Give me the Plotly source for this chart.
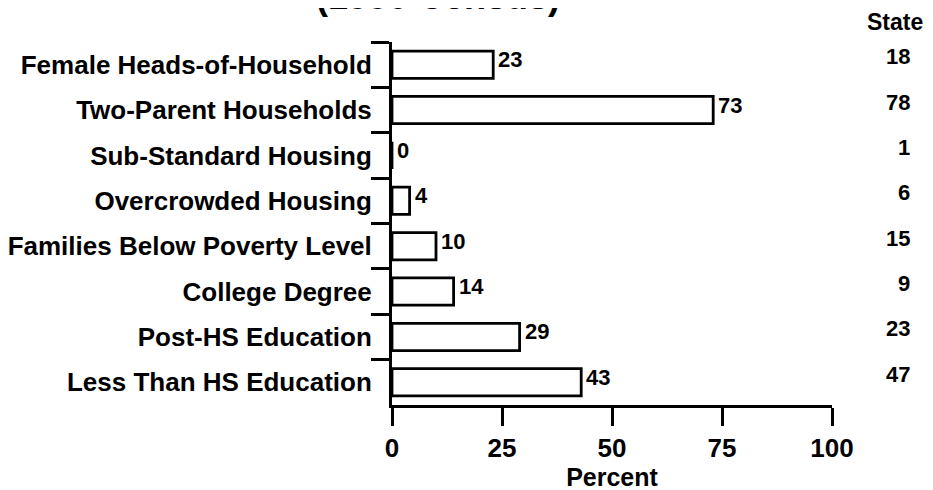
import plotly.graph_objects as go

categories = [
    "Female Heads-of-Household",
    "Two-Parent Households",
    "Sub-Standard Housing",
    "Overcrowded Housing",
    "Families Below Poverty Level",
    "College Degree",
    "Post-HS Education",
    "Less Than HS Education",
]
local_values = [23, 73, 0, 4, 10, 14, 29, 43]
state_values = [18, 78, 1, 6, 15, 9, 23, 47]
x_ticks = [0, 25, 50, 75, 100]
title_text = "(1990 Census)"
state_header = "State"
x_title = "Percent"

FONT = "Liberation Sans, Arial, Helvetica, sans-serif"
W, H = 933, 490
OFF = 8  # page body margin offset
# desired plot area in screen pixels
SX0, SX1, SY0, SY1 = 392, 832, 42, 405
L = SX0 - OFF
T = SY0 - OFF
R = W - L - (SX1 - SX0)
B = H - T - (SY1 - SY0)
PW, PH = SX1 - SX0, SY1 - SY0


def px_to_paper_x(px):
    return (px - SX0) / PW


def px_to_paper_y(py):
    return 1 - (py - SY0) / PH


fig = go.Figure()
fig.add_trace(go.Bar(
    x=local_values,
    y=categories,
    orientation="h",
    width=0.6,
    marker=dict(color="white", line=dict(color="black", width=2.8)),
    showlegend=False,
    hoverinfo="x+y",
))

annotations = []
for cat, lv in zip(categories, local_values):
    annotations.append(dict(
        x=lv, xref="x", xanchor="left", xshift=3,
        y=cat, yref="y", yanchor="middle", yshift=5,
        text=str(lv), showarrow=False,
        font=dict(family=FONT, size=22, color="black", weight="bold"),
    ))
for cat, sv in zip(categories, state_values):
    annotations.append(dict(
        x=px_to_paper_x(912), xref="paper", xanchor="right",
        y=cat, yref="y", yanchor="middle", yshift=8,
        text=str(sv), showarrow=False,
        font=dict(family=FONT, size=22, color="black", weight="bold"),
    ))
annotations.append(dict(
    x=px_to_paper_x(925), xref="paper", xanchor="right",
    y=px_to_paper_y(22), yref="paper", yanchor="middle",
    text=state_header, showarrow=False,
    font=dict(family=FONT, size=23, color="black", weight="bold"),
))
annotations.append(dict(
    x=px_to_paper_x(438), xref="paper", xanchor="center",
    y=px_to_paper_y(-3), yref="paper", yanchor="middle",
    text=title_text, showarrow=False,
    font=dict(family=FONT, size=36, color="black", weight="bold"),
))

fig.update_layout(
    width=W, height=H,
    margin=dict(l=L, r=R, t=T, b=B, pad=0, autoexpand=False),
    paper_bgcolor="white", plot_bgcolor="white",
    bargap=0.4,
    annotations=annotations,
    xaxis=dict(
        range=[0, 100], tickvals=x_ticks, ticktext=[str(t) for t in x_ticks],
        showline=True, linecolor="black", linewidth=3,
        ticks="outside", ticklen=18, tickwidth=3, tickcolor="black",
        showgrid=False, zeroline=False, automargin=False,
        tickfont=dict(family=FONT, size=26, color="black", weight="bold"),
        title=dict(text=x_title, standoff=6,
                   font=dict(family=FONT, size=25, color="black", weight="bold")),
    ),
    yaxis=dict(
        categoryorder="array", categoryarray=categories, autorange="reversed",
        showline=True, linecolor="black", linewidth=3,
        ticks="outside", ticklen=18, tickwidth=3, tickcolor="black",
        tickson="boundaries", showgrid=False, zeroline=False, automargin=False,
        ticklabelstandoff=12,
        tickfont=dict(family=FONT, size=26, color="black", weight="bold"),
    ),
)

fig.write_html("out.html")
